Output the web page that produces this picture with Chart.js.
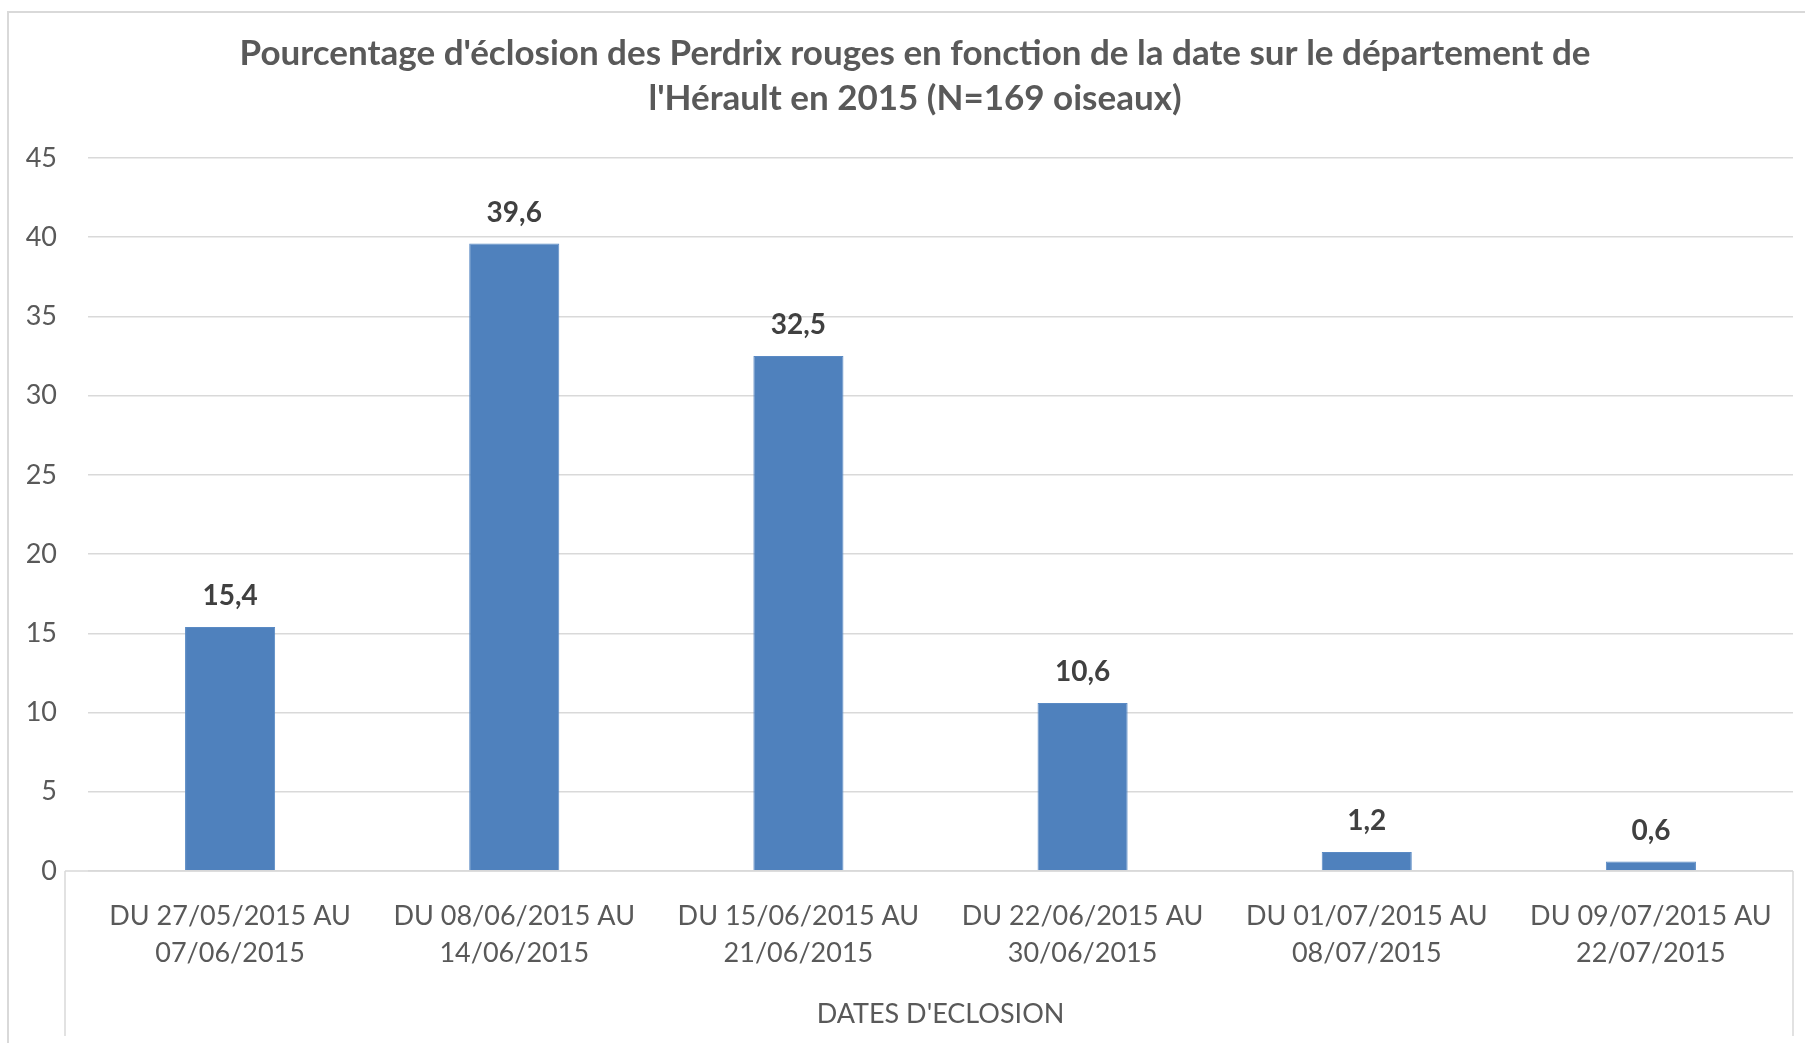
<!DOCTYPE html>
<html>
<head>
<meta charset="utf-8">
<script src="https://cdn.jsdelivr.net/npm/chart.js@4/dist/chart.umd.min.js"></script>
<style>
  html, body { margin: 0; padding: 0; background: #fff; overflow: hidden; }
  #wrap { position: relative; width: 1805px; height: 1043px; }
  #frame { position: absolute; left: 7px; top: 11px; width: 1900px; height: 1100px; border: 2px solid #d9d9d9; box-sizing: border-box; }
  canvas { position: absolute; left: 0; top: 0; }
</style>
</head>
<body>
<div id="wrap">
  <div id="frame"></div>
  <canvas id="chart" width="1805" height="1043"></canvas>
</div>
<script>
// Data
const categories = [
  ['DU 27/05/2015 AU', '07/06/2015'],
  ['DU 08/06/2015 AU', '14/06/2015'],
  ['DU 15/06/2015 AU', '21/06/2015'],
  ['DU 22/06/2015 AU', '30/06/2015'],
  ['DU 01/07/2015 AU', '08/07/2015'],
  ['DU 09/07/2015 AU', '22/07/2015']
];
const hatchPercent = [15.4, 39.6, 32.5, 10.6, 1.2, 0.6];
const yTicks = [0, 5, 10, 15, 20, 25, 30, 35, 40, 45];

const titleLines = [
  "Pourcentage d'éclosion des Perdrix rouges en fonction de la date sur le département de",
  "l'Hérault en 2015 (N=169 oiseaux)"
];
const axisTitle = "DATES D'ECLOSION";

const fontFamily = 'Lato, "Open Sans", sans-serif';

// Chart title, centred a bit right of the canvas like the original
const chartTitle = {
  id: 'chartTitle',
  afterDraw(chart) {
    const ctx = chart.ctx;
    ctx.save();
    ctx.font = 'bold 35px ' + fontFamily;
    ctx.fillStyle = '#595959';
    ctx.textAlign = 'center';
    ctx.textBaseline = 'middle';
    titleLines.forEach((line, i) => ctx.fillText(line, 915, 54 + i * 45));
    ctx.restore();
  }
};

// Value labels above each bar
const valueLabels = {
  id: 'valueLabels',
  afterDatasetsDraw(chart) {
    const ctx = chart.ctx;
    const meta = chart.getDatasetMeta(0);
    ctx.save();
    ctx.font = 'bold 28px ' + fontFamily;
    ctx.fillStyle = '#404040';
    ctx.textAlign = 'center';
    ctx.textBaseline = 'middle';
    meta.data.forEach((bar, i) => {
      ctx.fillText(String(hatchPercent[i]).replace('.', ','), bar.x, bar.y - 31);
    });
    ctx.restore();
  }
};

// Excel-like box around the category axis
const categoryBox = {
  id: 'categoryBox',
  afterDraw(chart) {
    const ctx = chart.ctx;
    const area = chart.chartArea;
    ctx.save();
    ctx.strokeStyle = '#d9d9d9';
    ctx.lineWidth = 1.5;
    ctx.beginPath();
    ctx.moveTo(65, area.bottom);
    ctx.lineTo(area.right, area.bottom);
    ctx.moveTo(65, area.bottom);
    ctx.lineTo(65, 1036);
    ctx.moveTo(area.right, area.bottom);
    ctx.lineTo(area.right, 1036);
    ctx.stroke();
    ctx.restore();
  }
};

const ctx = document.getElementById('chart').getContext('2d');
const chart = new Chart(ctx, {
  type: 'bar',
  data: {
    labels: categories,
    datasets: [{
      data: hatchPercent,
      backgroundColor: '#4f81bd',
      borderColor: '#5a8ac4',
      borderWidth: 1,
      barPercentage: 0.317,
      categoryPercentage: 1
    }]
  },
  options: {
    responsive: false,
    animation: false,
    layout: { padding: { left: 0, right: 12, top: 158, bottom: 13 } },
    plugins: {
      legend: { display: false },
      tooltip: { enabled: false },
      title: { display: false }
    },
    scales: {
      x: {
        grid: { display: false },
        border: { display: false },
        ticks: {
          color: '#595959',
          font: { family: fontFamily, size: 27, lineHeight: 1.4 },
          padding: 18,
          maxRotation: 0,
          autoSkip: false
        },
        title: {
          display: true,
          text: axisTitle,
          color: '#595959',
          font: { family: fontFamily, size: 27, lineHeight: 1.2 },
          padding: { top: 7, bottom: 0 }
        }
      },
      y: {
        min: 0,
        max: 45,
        afterFit(scale) { scale.width = 88; },
        afterBuildTicks(scale) { scale.ticks = yTicks.map(v => ({ value: v })); },
        grid: { color: '#d9d9d9', lineWidth: 1.5, drawTicks: false },
        border: { display: false },
        ticks: {
          color: '#595959',
          font: { family: fontFamily, size: 27 },
          padding: 31
        }
      }
    }
  },
  plugins: [chartTitle, valueLabels, categoryBox]
});
</script>
</body>
</html>
